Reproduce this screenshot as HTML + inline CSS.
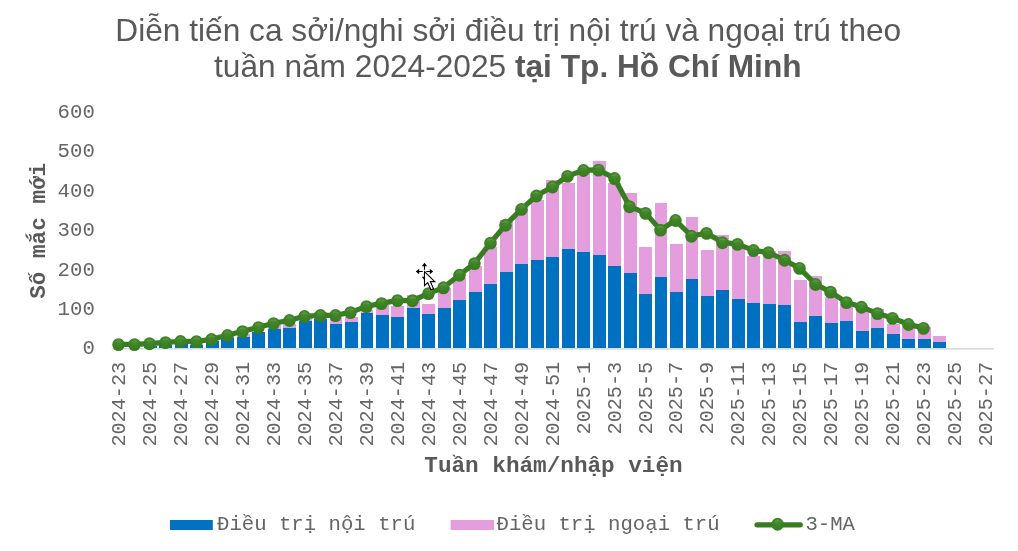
<!DOCTYPE html>
<html lang="vi"><head><meta charset="utf-8"><title>Diễn tiến ca sởi</title>
<style>html,body{margin:0;padding:0;background:#fff;overflow:hidden}svg{display:block}</style></head>
<body>
<svg width="1018" height="551" viewBox="0 0 1018 551">
<defs><radialGradient id="mk" cx="0.5" cy="0.3" r="0.6"><stop offset="0" stop-color="#4a8d32"/><stop offset="0.6" stop-color="#3d8125"/><stop offset="1" stop-color="#397D21"/></radialGradient></defs>
<rect width="1018" height="551" fill="#fff"/>
<text x="508.3" y="41.1" text-anchor="middle" font-family='"Liberation Sans", sans-serif' font-size="31.66" fill="#595959">Diễn tiến ca sởi/nghi sởi điều trị nội trú và ngoại trú theo</text>
<text x="507.8" y="76.9" text-anchor="middle" font-family='"Liberation Sans", sans-serif' font-size="31.66" fill="#595959">tuần năm 2024-2025 <tspan font-weight="bold">tại Tp. Hồ Chí Minh</tspan></text>
<text x="94.8" y="354.2" text-anchor="end" font-family='"Liberation Mono", monospace' font-size="20.67" fill="#656565">0</text>
<text x="94.8" y="314.8" text-anchor="end" font-family='"Liberation Mono", monospace' font-size="20.67" fill="#656565">100</text>
<text x="94.8" y="275.5" text-anchor="end" font-family='"Liberation Mono", monospace' font-size="20.67" fill="#656565">200</text>
<text x="94.8" y="236.1" text-anchor="end" font-family='"Liberation Mono", monospace' font-size="20.67" fill="#656565">300</text>
<text x="94.8" y="196.7" text-anchor="end" font-family='"Liberation Mono", monospace' font-size="20.67" fill="#656565">400</text>
<text x="94.8" y="157.3" text-anchor="end" font-family='"Liberation Mono", monospace' font-size="20.67" fill="#656565">500</text>
<text x="94.8" y="118.0" text-anchor="end" font-family='"Liberation Mono", monospace' font-size="20.67" fill="#656565">600</text>
<text transform="translate(45.3,230.8) rotate(-90)" text-anchor="middle" font-family='"Liberation Mono", monospace' font-weight="bold" font-size="22.67" fill="#595959">Số mắc mới</text>
<rect x="113" y="348" width="13" height="0" fill="#0070C0"/>
<rect x="128" y="348" width="13" height="0" fill="#0070C0"/>
<rect x="144" y="346" width="13" height="2" fill="#0070C0"/>
<rect x="159" y="344" width="13" height="1" fill="#E59EDD"/>
<rect x="159" y="345" width="13" height="3" fill="#0070C0"/>
<rect x="175" y="344" width="13" height="4" fill="#0070C0"/>
<rect x="190" y="344" width="13" height="1" fill="#E59EDD"/>
<rect x="190" y="345" width="13" height="3" fill="#0070C0"/>
<rect x="206" y="340" width="13" height="1" fill="#E59EDD"/>
<rect x="206" y="341" width="13" height="7" fill="#0070C0"/>
<rect x="221" y="335" width="13" height="3" fill="#E59EDD"/>
<rect x="221" y="338" width="13" height="10" fill="#0070C0"/>
<rect x="237" y="334" width="13" height="3" fill="#E59EDD"/>
<rect x="237" y="337" width="13" height="11" fill="#0070C0"/>
<rect x="252" y="332" width="13" height="16" fill="#0070C0"/>
<rect x="268" y="325" width="13" height="4" fill="#E59EDD"/>
<rect x="268" y="329" width="13" height="19" fill="#0070C0"/>
<rect x="283" y="324" width="13" height="4" fill="#E59EDD"/>
<rect x="283" y="328" width="13" height="20" fill="#0070C0"/>
<rect x="299" y="317" width="13" height="4" fill="#E59EDD"/>
<rect x="299" y="321" width="13" height="27" fill="#0070C0"/>
<rect x="314" y="312" width="13" height="7" fill="#E59EDD"/>
<rect x="314" y="319" width="13" height="29" fill="#0070C0"/>
<rect x="330" y="318" width="12" height="6" fill="#E59EDD"/>
<rect x="330" y="324" width="12" height="24" fill="#0070C0"/>
<rect x="345" y="317" width="13" height="5" fill="#E59EDD"/>
<rect x="345" y="322" width="13" height="26" fill="#0070C0"/>
<rect x="361" y="310" width="12" height="3" fill="#E59EDD"/>
<rect x="361" y="313" width="12" height="35" fill="#0070C0"/>
<rect x="376" y="305" width="13" height="10" fill="#E59EDD"/>
<rect x="376" y="315" width="13" height="33" fill="#0070C0"/>
<rect x="391" y="306" width="13" height="11" fill="#E59EDD"/>
<rect x="391" y="317" width="13" height="31" fill="#0070C0"/>
<rect x="407" y="295" width="13" height="13" fill="#E59EDD"/>
<rect x="407" y="308" width="13" height="40" fill="#0070C0"/>
<rect x="422" y="304" width="13" height="10" fill="#E59EDD"/>
<rect x="422" y="314" width="13" height="34" fill="#0070C0"/>
<rect x="438" y="288" width="13" height="20" fill="#E59EDD"/>
<rect x="438" y="308" width="13" height="40" fill="#0070C0"/>
<rect x="453" y="278" width="13" height="22" fill="#E59EDD"/>
<rect x="453" y="300" width="13" height="48" fill="#0070C0"/>
<rect x="469" y="266" width="13" height="26" fill="#E59EDD"/>
<rect x="469" y="292" width="13" height="56" fill="#0070C0"/>
<rect x="484" y="247" width="13" height="37" fill="#E59EDD"/>
<rect x="484" y="284" width="13" height="64" fill="#0070C0"/>
<rect x="500" y="220" width="13" height="52" fill="#E59EDD"/>
<rect x="500" y="272" width="13" height="76" fill="#0070C0"/>
<rect x="515" y="209" width="13" height="55" fill="#E59EDD"/>
<rect x="515" y="264" width="13" height="84" fill="#0070C0"/>
<rect x="531" y="200" width="13" height="60" fill="#E59EDD"/>
<rect x="531" y="260" width="13" height="88" fill="#0070C0"/>
<rect x="546" y="180" width="13" height="77" fill="#E59EDD"/>
<rect x="546" y="257" width="13" height="91" fill="#0070C0"/>
<rect x="562" y="183" width="13" height="66" fill="#E59EDD"/>
<rect x="562" y="249" width="13" height="99" fill="#0070C0"/>
<rect x="577" y="171" width="13" height="81" fill="#E59EDD"/>
<rect x="577" y="252" width="13" height="96" fill="#0070C0"/>
<rect x="593" y="161" width="13" height="94" fill="#E59EDD"/>
<rect x="593" y="255" width="13" height="93" fill="#0070C0"/>
<rect x="608" y="183" width="13" height="83" fill="#E59EDD"/>
<rect x="608" y="266" width="13" height="82" fill="#0070C0"/>
<rect x="624" y="193" width="13" height="80" fill="#E59EDD"/>
<rect x="624" y="273" width="13" height="75" fill="#0070C0"/>
<rect x="639" y="247" width="13" height="47" fill="#E59EDD"/>
<rect x="639" y="294" width="13" height="54" fill="#0070C0"/>
<rect x="655" y="203" width="12" height="74" fill="#E59EDD"/>
<rect x="655" y="277" width="12" height="71" fill="#0070C0"/>
<rect x="670" y="244" width="13" height="48" fill="#E59EDD"/>
<rect x="670" y="292" width="13" height="56" fill="#0070C0"/>
<rect x="686" y="217" width="12" height="62" fill="#E59EDD"/>
<rect x="686" y="279" width="12" height="69" fill="#0070C0"/>
<rect x="701" y="250" width="13" height="46" fill="#E59EDD"/>
<rect x="701" y="296" width="13" height="52" fill="#0070C0"/>
<rect x="716" y="235" width="13" height="55" fill="#E59EDD"/>
<rect x="716" y="290" width="13" height="58" fill="#0070C0"/>
<rect x="732" y="245" width="13" height="54" fill="#E59EDD"/>
<rect x="732" y="299" width="13" height="49" fill="#0070C0"/>
<rect x="747" y="256" width="13" height="47" fill="#E59EDD"/>
<rect x="747" y="303" width="13" height="45" fill="#0070C0"/>
<rect x="763" y="251" width="13" height="53" fill="#E59EDD"/>
<rect x="763" y="304" width="13" height="44" fill="#0070C0"/>
<rect x="778" y="251" width="13" height="54" fill="#E59EDD"/>
<rect x="778" y="305" width="13" height="43" fill="#0070C0"/>
<rect x="794" y="280" width="13" height="42" fill="#E59EDD"/>
<rect x="794" y="322" width="13" height="26" fill="#0070C0"/>
<rect x="809" y="276" width="13" height="40" fill="#E59EDD"/>
<rect x="809" y="316" width="13" height="32" fill="#0070C0"/>
<rect x="825" y="297" width="13" height="26" fill="#E59EDD"/>
<rect x="825" y="323" width="13" height="25" fill="#0070C0"/>
<rect x="840" y="304" width="13" height="17" fill="#E59EDD"/>
<rect x="840" y="321" width="13" height="27" fill="#0070C0"/>
<rect x="856" y="307" width="13" height="24" fill="#E59EDD"/>
<rect x="856" y="331" width="13" height="17" fill="#0070C0"/>
<rect x="871" y="309" width="13" height="19" fill="#E59EDD"/>
<rect x="871" y="328" width="13" height="20" fill="#0070C0"/>
<rect x="887" y="324" width="13" height="10" fill="#E59EDD"/>
<rect x="887" y="334" width="13" height="14" fill="#0070C0"/>
<rect x="902" y="324" width="13" height="15" fill="#E59EDD"/>
<rect x="902" y="339" width="13" height="9" fill="#0070C0"/>
<rect x="918" y="327" width="13" height="12" fill="#E59EDD"/>
<rect x="918" y="339" width="13" height="9" fill="#0070C0"/>
<rect x="933" y="336" width="13" height="6" fill="#E59EDD"/>
<rect x="933" y="342" width="13" height="6" fill="#0070C0"/>
<rect x="111.62" y="348" width="882.18" height="1.6" fill="#D9D9D9"/>
<polyline fill="none" stroke="#397D21" stroke-width="5.2" stroke-linejoin="round" stroke-linecap="round" points="118.50,344.34 134.50,344.34 149.50,343.55 165.50,342.41 180.50,341.31 196.50,341.39 211.50,339.30 227.50,335.20 242.50,331.35 258.50,327.33 273.50,323.35 289.50,320.24 304.50,316.31 320.50,315.32 335.50,315.32 350.50,312.37 366.50,306.35 381.50,303.35 397.50,300.36 412.50,300.56 428.50,293.35 443.50,287.57 459.50,275.01 474.50,263.35 490.50,242.88 505.50,224.97 521.50,209.10 536.50,195.72 552.50,186.78 567.50,176.15 583.50,170.21 598.50,169.89 614.50,178.32 629.50,206.43 645.50,213.12 660.50,229.89 675.50,220.28 691.50,235.99 706.50,233.12 722.50,242.45 737.50,244.14 753.50,250.32 768.50,252.49 784.50,260.01 799.50,268.16 815.50,284.22 830.50,291.90 846.50,302.33 861.50,307.06 877.50,313.39 892.50,318.08 908.50,324.26 923.50,328.12"/>
<ellipse cx="118.50" cy="344.59" rx="6.25" ry="6.45" fill="url(#mk)"/><path d="M115.50 342.04a4.2 4.2 0 0 1 6 0" fill="none" stroke="#7bb268" stroke-width="0.9" stroke-linecap="round" opacity="0.55"/>
<ellipse cx="134.50" cy="344.59" rx="6.25" ry="6.45" fill="url(#mk)"/><path d="M131.50 342.04a4.2 4.2 0 0 1 6 0" fill="none" stroke="#7bb268" stroke-width="0.9" stroke-linecap="round" opacity="0.55"/>
<ellipse cx="149.50" cy="343.80" rx="6.25" ry="6.45" fill="url(#mk)"/><path d="M146.50 341.25a4.2 4.2 0 0 1 6 0" fill="none" stroke="#7bb268" stroke-width="0.9" stroke-linecap="round" opacity="0.55"/>
<ellipse cx="165.50" cy="342.66" rx="6.25" ry="6.45" fill="url(#mk)"/><path d="M162.50 340.11a4.2 4.2 0 0 1 6 0" fill="none" stroke="#7bb268" stroke-width="0.9" stroke-linecap="round" opacity="0.55"/>
<ellipse cx="180.50" cy="341.56" rx="6.25" ry="6.45" fill="url(#mk)"/><path d="M177.50 339.01a4.2 4.2 0 0 1 6 0" fill="none" stroke="#7bb268" stroke-width="0.9" stroke-linecap="round" opacity="0.55"/>
<ellipse cx="196.50" cy="341.64" rx="6.25" ry="6.45" fill="url(#mk)"/><path d="M193.50 339.09a4.2 4.2 0 0 1 6 0" fill="none" stroke="#7bb268" stroke-width="0.9" stroke-linecap="round" opacity="0.55"/>
<ellipse cx="211.50" cy="339.55" rx="6.25" ry="6.45" fill="url(#mk)"/><path d="M208.50 337.00a4.2 4.2 0 0 1 6 0" fill="none" stroke="#7bb268" stroke-width="0.9" stroke-linecap="round" opacity="0.55"/>
<ellipse cx="227.50" cy="335.45" rx="6.25" ry="6.45" fill="url(#mk)"/><path d="M224.50 332.90a4.2 4.2 0 0 1 6 0" fill="none" stroke="#7bb268" stroke-width="0.9" stroke-linecap="round" opacity="0.55"/>
<ellipse cx="242.50" cy="331.60" rx="6.25" ry="6.45" fill="url(#mk)"/><path d="M239.50 329.05a4.2 4.2 0 0 1 6 0" fill="none" stroke="#7bb268" stroke-width="0.9" stroke-linecap="round" opacity="0.55"/>
<ellipse cx="258.50" cy="327.58" rx="6.25" ry="6.45" fill="url(#mk)"/><path d="M255.50 325.03a4.2 4.2 0 0 1 6 0" fill="none" stroke="#7bb268" stroke-width="0.9" stroke-linecap="round" opacity="0.55"/>
<ellipse cx="273.50" cy="323.60" rx="6.25" ry="6.45" fill="url(#mk)"/><path d="M270.50 321.05a4.2 4.2 0 0 1 6 0" fill="none" stroke="#7bb268" stroke-width="0.9" stroke-linecap="round" opacity="0.55"/>
<ellipse cx="289.50" cy="320.49" rx="6.25" ry="6.45" fill="url(#mk)"/><path d="M286.50 317.94a4.2 4.2 0 0 1 6 0" fill="none" stroke="#7bb268" stroke-width="0.9" stroke-linecap="round" opacity="0.55"/>
<ellipse cx="304.50" cy="316.56" rx="6.25" ry="6.45" fill="url(#mk)"/><path d="M301.50 314.01a4.2 4.2 0 0 1 6 0" fill="none" stroke="#7bb268" stroke-width="0.9" stroke-linecap="round" opacity="0.55"/>
<ellipse cx="320.50" cy="315.57" rx="6.25" ry="6.45" fill="url(#mk)"/><path d="M317.50 313.02a4.2 4.2 0 0 1 6 0" fill="none" stroke="#7bb268" stroke-width="0.9" stroke-linecap="round" opacity="0.55"/>
<ellipse cx="335.50" cy="315.57" rx="6.25" ry="6.45" fill="url(#mk)"/><path d="M332.50 313.02a4.2 4.2 0 0 1 6 0" fill="none" stroke="#7bb268" stroke-width="0.9" stroke-linecap="round" opacity="0.55"/>
<ellipse cx="350.50" cy="312.62" rx="6.25" ry="6.45" fill="url(#mk)"/><path d="M347.50 310.07a4.2 4.2 0 0 1 6 0" fill="none" stroke="#7bb268" stroke-width="0.9" stroke-linecap="round" opacity="0.55"/>
<ellipse cx="366.50" cy="306.60" rx="6.25" ry="6.45" fill="url(#mk)"/><path d="M363.50 304.05a4.2 4.2 0 0 1 6 0" fill="none" stroke="#7bb268" stroke-width="0.9" stroke-linecap="round" opacity="0.55"/>
<ellipse cx="381.50" cy="303.60" rx="6.25" ry="6.45" fill="url(#mk)"/><path d="M378.50 301.05a4.2 4.2 0 0 1 6 0" fill="none" stroke="#7bb268" stroke-width="0.9" stroke-linecap="round" opacity="0.55"/>
<ellipse cx="397.50" cy="300.61" rx="6.25" ry="6.45" fill="url(#mk)"/><path d="M394.50 298.06a4.2 4.2 0 0 1 6 0" fill="none" stroke="#7bb268" stroke-width="0.9" stroke-linecap="round" opacity="0.55"/>
<ellipse cx="412.50" cy="300.81" rx="6.25" ry="6.45" fill="url(#mk)"/><path d="M409.50 298.26a4.2 4.2 0 0 1 6 0" fill="none" stroke="#7bb268" stroke-width="0.9" stroke-linecap="round" opacity="0.55"/>
<ellipse cx="428.50" cy="293.60" rx="6.25" ry="6.45" fill="url(#mk)"/><path d="M425.50 291.05a4.2 4.2 0 0 1 6 0" fill="none" stroke="#7bb268" stroke-width="0.9" stroke-linecap="round" opacity="0.55"/>
<ellipse cx="443.50" cy="287.82" rx="6.25" ry="6.45" fill="url(#mk)"/><path d="M440.50 285.27a4.2 4.2 0 0 1 6 0" fill="none" stroke="#7bb268" stroke-width="0.9" stroke-linecap="round" opacity="0.55"/>
<ellipse cx="459.50" cy="275.26" rx="6.25" ry="6.45" fill="url(#mk)"/><path d="M456.50 272.71a4.2 4.2 0 0 1 6 0" fill="none" stroke="#7bb268" stroke-width="0.9" stroke-linecap="round" opacity="0.55"/>
<ellipse cx="474.50" cy="263.60" rx="6.25" ry="6.45" fill="url(#mk)"/><path d="M471.50 261.05a4.2 4.2 0 0 1 6 0" fill="none" stroke="#7bb268" stroke-width="0.9" stroke-linecap="round" opacity="0.55"/>
<ellipse cx="490.50" cy="243.13" rx="6.25" ry="6.45" fill="url(#mk)"/><path d="M487.50 240.58a4.2 4.2 0 0 1 6 0" fill="none" stroke="#7bb268" stroke-width="0.9" stroke-linecap="round" opacity="0.55"/>
<ellipse cx="505.50" cy="225.22" rx="6.25" ry="6.45" fill="url(#mk)"/><path d="M502.50 222.67a4.2 4.2 0 0 1 6 0" fill="none" stroke="#7bb268" stroke-width="0.9" stroke-linecap="round" opacity="0.55"/>
<ellipse cx="521.50" cy="209.35" rx="6.25" ry="6.45" fill="url(#mk)"/><path d="M518.50 206.80a4.2 4.2 0 0 1 6 0" fill="none" stroke="#7bb268" stroke-width="0.9" stroke-linecap="round" opacity="0.55"/>
<ellipse cx="536.50" cy="195.97" rx="6.25" ry="6.45" fill="url(#mk)"/><path d="M533.50 193.42a4.2 4.2 0 0 1 6 0" fill="none" stroke="#7bb268" stroke-width="0.9" stroke-linecap="round" opacity="0.55"/>
<ellipse cx="552.50" cy="187.03" rx="6.25" ry="6.45" fill="url(#mk)"/><path d="M549.50 184.48a4.2 4.2 0 0 1 6 0" fill="none" stroke="#7bb268" stroke-width="0.9" stroke-linecap="round" opacity="0.55"/>
<ellipse cx="567.50" cy="176.40" rx="6.25" ry="6.45" fill="url(#mk)"/><path d="M564.50 173.85a4.2 4.2 0 0 1 6 0" fill="none" stroke="#7bb268" stroke-width="0.9" stroke-linecap="round" opacity="0.55"/>
<ellipse cx="583.50" cy="170.46" rx="6.25" ry="6.45" fill="url(#mk)"/><path d="M580.50 167.91a4.2 4.2 0 0 1 6 0" fill="none" stroke="#7bb268" stroke-width="0.9" stroke-linecap="round" opacity="0.55"/>
<ellipse cx="598.50" cy="170.14" rx="6.25" ry="6.45" fill="url(#mk)"/><path d="M595.50 167.59a4.2 4.2 0 0 1 6 0" fill="none" stroke="#7bb268" stroke-width="0.9" stroke-linecap="round" opacity="0.55"/>
<ellipse cx="614.50" cy="178.57" rx="6.25" ry="6.45" fill="url(#mk)"/><path d="M611.50 176.02a4.2 4.2 0 0 1 6 0" fill="none" stroke="#7bb268" stroke-width="0.9" stroke-linecap="round" opacity="0.55"/>
<ellipse cx="629.50" cy="206.68" rx="6.25" ry="6.45" fill="url(#mk)"/><path d="M626.50 204.13a4.2 4.2 0 0 1 6 0" fill="none" stroke="#7bb268" stroke-width="0.9" stroke-linecap="round" opacity="0.55"/>
<ellipse cx="645.50" cy="213.37" rx="6.25" ry="6.45" fill="url(#mk)"/><path d="M642.50 210.82a4.2 4.2 0 0 1 6 0" fill="none" stroke="#7bb268" stroke-width="0.9" stroke-linecap="round" opacity="0.55"/>
<ellipse cx="660.50" cy="230.14" rx="6.25" ry="6.45" fill="url(#mk)"/><path d="M657.50 227.59a4.2 4.2 0 0 1 6 0" fill="none" stroke="#7bb268" stroke-width="0.9" stroke-linecap="round" opacity="0.55"/>
<ellipse cx="675.50" cy="220.53" rx="6.25" ry="6.45" fill="url(#mk)"/><path d="M672.50 217.98a4.2 4.2 0 0 1 6 0" fill="none" stroke="#7bb268" stroke-width="0.9" stroke-linecap="round" opacity="0.55"/>
<ellipse cx="691.50" cy="236.24" rx="6.25" ry="6.45" fill="url(#mk)"/><path d="M688.50 233.69a4.2 4.2 0 0 1 6 0" fill="none" stroke="#7bb268" stroke-width="0.9" stroke-linecap="round" opacity="0.55"/>
<ellipse cx="706.50" cy="233.37" rx="6.25" ry="6.45" fill="url(#mk)"/><path d="M703.50 230.82a4.2 4.2 0 0 1 6 0" fill="none" stroke="#7bb268" stroke-width="0.9" stroke-linecap="round" opacity="0.55"/>
<ellipse cx="722.50" cy="242.70" rx="6.25" ry="6.45" fill="url(#mk)"/><path d="M719.50 240.15a4.2 4.2 0 0 1 6 0" fill="none" stroke="#7bb268" stroke-width="0.9" stroke-linecap="round" opacity="0.55"/>
<ellipse cx="737.50" cy="244.39" rx="6.25" ry="6.45" fill="url(#mk)"/><path d="M734.50 241.84a4.2 4.2 0 0 1 6 0" fill="none" stroke="#7bb268" stroke-width="0.9" stroke-linecap="round" opacity="0.55"/>
<ellipse cx="753.50" cy="250.57" rx="6.25" ry="6.45" fill="url(#mk)"/><path d="M750.50 248.02a4.2 4.2 0 0 1 6 0" fill="none" stroke="#7bb268" stroke-width="0.9" stroke-linecap="round" opacity="0.55"/>
<ellipse cx="768.50" cy="252.74" rx="6.25" ry="6.45" fill="url(#mk)"/><path d="M765.50 250.19a4.2 4.2 0 0 1 6 0" fill="none" stroke="#7bb268" stroke-width="0.9" stroke-linecap="round" opacity="0.55"/>
<ellipse cx="784.50" cy="260.26" rx="6.25" ry="6.45" fill="url(#mk)"/><path d="M781.50 257.71a4.2 4.2 0 0 1 6 0" fill="none" stroke="#7bb268" stroke-width="0.9" stroke-linecap="round" opacity="0.55"/>
<ellipse cx="799.50" cy="268.41" rx="6.25" ry="6.45" fill="url(#mk)"/><path d="M796.50 265.86a4.2 4.2 0 0 1 6 0" fill="none" stroke="#7bb268" stroke-width="0.9" stroke-linecap="round" opacity="0.55"/>
<ellipse cx="815.50" cy="284.47" rx="6.25" ry="6.45" fill="url(#mk)"/><path d="M812.50 281.92a4.2 4.2 0 0 1 6 0" fill="none" stroke="#7bb268" stroke-width="0.9" stroke-linecap="round" opacity="0.55"/>
<ellipse cx="830.50" cy="292.15" rx="6.25" ry="6.45" fill="url(#mk)"/><path d="M827.50 289.60a4.2 4.2 0 0 1 6 0" fill="none" stroke="#7bb268" stroke-width="0.9" stroke-linecap="round" opacity="0.55"/>
<ellipse cx="846.50" cy="302.58" rx="6.25" ry="6.45" fill="url(#mk)"/><path d="M843.50 300.03a4.2 4.2 0 0 1 6 0" fill="none" stroke="#7bb268" stroke-width="0.9" stroke-linecap="round" opacity="0.55"/>
<ellipse cx="861.50" cy="307.31" rx="6.25" ry="6.45" fill="url(#mk)"/><path d="M858.50 304.76a4.2 4.2 0 0 1 6 0" fill="none" stroke="#7bb268" stroke-width="0.9" stroke-linecap="round" opacity="0.55"/>
<ellipse cx="877.50" cy="313.64" rx="6.25" ry="6.45" fill="url(#mk)"/><path d="M874.50 311.09a4.2 4.2 0 0 1 6 0" fill="none" stroke="#7bb268" stroke-width="0.9" stroke-linecap="round" opacity="0.55"/>
<ellipse cx="892.50" cy="318.33" rx="6.25" ry="6.45" fill="url(#mk)"/><path d="M889.50 315.78a4.2 4.2 0 0 1 6 0" fill="none" stroke="#7bb268" stroke-width="0.9" stroke-linecap="round" opacity="0.55"/>
<ellipse cx="908.50" cy="324.51" rx="6.25" ry="6.45" fill="url(#mk)"/><path d="M905.50 321.96a4.2 4.2 0 0 1 6 0" fill="none" stroke="#7bb268" stroke-width="0.9" stroke-linecap="round" opacity="0.55"/>
<ellipse cx="923.50" cy="328.37" rx="6.25" ry="6.45" fill="url(#mk)"/><path d="M920.50 325.82a4.2 4.2 0 0 1 6 0" fill="none" stroke="#7bb268" stroke-width="0.9" stroke-linecap="round" opacity="0.55"/>
<g id="cursor"><path d="M418.5 271.5H422.7M426.3 271.5H430.5M424.5 265.5V269.7M424.5 273.3V277.5" stroke="#000" stroke-width="1.1" fill="none"/><path d="M424.5 262.8l2.7 3.4h-5.4zM424.5 280.2l2.7-3.4h-5.4zM415.8 271.5l3.4-2.7v5.4zM433.2 271.5l-3.4-2.7v5.4z" fill="#000"/><path d="M424.5 271.5V285.7L427.7 282.7L431 289.8L433.5 288.7L430.3 281.6H434.8Z" fill="#fff" stroke="#000" stroke-width="1.1" stroke-linejoin="miter"/></g>
<text transform="translate(125.36,361.8) rotate(-90)" text-anchor="end" font-family='"Liberation Mono", monospace' font-size="20.2" fill="#656565">2024-23</text>
<text transform="translate(156.31,361.8) rotate(-90)" text-anchor="end" font-family='"Liberation Mono", monospace' font-size="20.2" fill="#656565">2024-25</text>
<text transform="translate(187.26,361.8) rotate(-90)" text-anchor="end" font-family='"Liberation Mono", monospace' font-size="20.2" fill="#656565">2024-27</text>
<text transform="translate(218.21,361.8) rotate(-90)" text-anchor="end" font-family='"Liberation Mono", monospace' font-size="20.2" fill="#656565">2024-29</text>
<text transform="translate(249.17,361.8) rotate(-90)" text-anchor="end" font-family='"Liberation Mono", monospace' font-size="20.2" fill="#656565">2024-31</text>
<text transform="translate(280.12,361.8) rotate(-90)" text-anchor="end" font-family='"Liberation Mono", monospace' font-size="20.2" fill="#656565">2024-33</text>
<text transform="translate(311.07,361.8) rotate(-90)" text-anchor="end" font-family='"Liberation Mono", monospace' font-size="20.2" fill="#656565">2024-35</text>
<text transform="translate(342.02,361.8) rotate(-90)" text-anchor="end" font-family='"Liberation Mono", monospace' font-size="20.2" fill="#656565">2024-37</text>
<text transform="translate(372.97,361.8) rotate(-90)" text-anchor="end" font-family='"Liberation Mono", monospace' font-size="20.2" fill="#656565">2024-39</text>
<text transform="translate(403.93,361.8) rotate(-90)" text-anchor="end" font-family='"Liberation Mono", monospace' font-size="20.2" fill="#656565">2024-41</text>
<text transform="translate(434.88,361.8) rotate(-90)" text-anchor="end" font-family='"Liberation Mono", monospace' font-size="20.2" fill="#656565">2024-43</text>
<text transform="translate(465.83,361.8) rotate(-90)" text-anchor="end" font-family='"Liberation Mono", monospace' font-size="20.2" fill="#656565">2024-45</text>
<text transform="translate(496.78,361.8) rotate(-90)" text-anchor="end" font-family='"Liberation Mono", monospace' font-size="20.2" fill="#656565">2024-47</text>
<text transform="translate(527.73,361.8) rotate(-90)" text-anchor="end" font-family='"Liberation Mono", monospace' font-size="20.2" fill="#656565">2024-49</text>
<text transform="translate(558.69,361.8) rotate(-90)" text-anchor="end" font-family='"Liberation Mono", monospace' font-size="20.2" fill="#656565">2024-51</text>
<text transform="translate(589.64,361.8) rotate(-90)" text-anchor="end" font-family='"Liberation Mono", monospace' font-size="20.2" fill="#656565">2025-1</text>
<text transform="translate(620.59,361.8) rotate(-90)" text-anchor="end" font-family='"Liberation Mono", monospace' font-size="20.2" fill="#656565">2025-3</text>
<text transform="translate(651.54,361.8) rotate(-90)" text-anchor="end" font-family='"Liberation Mono", monospace' font-size="20.2" fill="#656565">2025-5</text>
<text transform="translate(682.49,361.8) rotate(-90)" text-anchor="end" font-family='"Liberation Mono", monospace' font-size="20.2" fill="#656565">2025-7</text>
<text transform="translate(713.45,361.8) rotate(-90)" text-anchor="end" font-family='"Liberation Mono", monospace' font-size="20.2" fill="#656565">2025-9</text>
<text transform="translate(744.40,361.8) rotate(-90)" text-anchor="end" font-family='"Liberation Mono", monospace' font-size="20.2" fill="#656565">2025-11</text>
<text transform="translate(775.35,361.8) rotate(-90)" text-anchor="end" font-family='"Liberation Mono", monospace' font-size="20.2" fill="#656565">2025-13</text>
<text transform="translate(806.30,361.8) rotate(-90)" text-anchor="end" font-family='"Liberation Mono", monospace' font-size="20.2" fill="#656565">2025-15</text>
<text transform="translate(837.25,361.8) rotate(-90)" text-anchor="end" font-family='"Liberation Mono", monospace' font-size="20.2" fill="#656565">2025-17</text>
<text transform="translate(868.21,361.8) rotate(-90)" text-anchor="end" font-family='"Liberation Mono", monospace' font-size="20.2" fill="#656565">2025-19</text>
<text transform="translate(899.16,361.8) rotate(-90)" text-anchor="end" font-family='"Liberation Mono", monospace' font-size="20.2" fill="#656565">2025-21</text>
<text transform="translate(930.11,361.8) rotate(-90)" text-anchor="end" font-family='"Liberation Mono", monospace' font-size="20.2" fill="#656565">2025-23</text>
<text transform="translate(961.06,361.8) rotate(-90)" text-anchor="end" font-family='"Liberation Mono", monospace' font-size="20.2" fill="#656565">2025-25</text>
<text transform="translate(992.01,361.8) rotate(-90)" text-anchor="end" font-family='"Liberation Mono", monospace' font-size="20.2" fill="#656565">2025-27</text>
<text x="553.5" y="472" text-anchor="middle" font-family='"Liberation Mono", monospace' font-weight="bold" font-size="22.67" fill="#595959">Tuần khám/nhập viện</text>
<rect x="170" y="520" width="42.8" height="10" fill="#0070C0"/>
<text x="217" y="530.1" font-family='"Liberation Mono", monospace' font-size="20.67" fill="#656565">Điều trị nội trú</text>
<rect x="450.6" y="520" width="43.4" height="10" fill="#E59EDD"/>
<text x="496.5" y="530.1" font-family='"Liberation Mono", monospace' font-size="20.67" fill="#656565">Điều trị ngoại trú</text>
<line x1="757" y1="524.8" x2="800.3" y2="524.8" stroke="#397D21" stroke-width="5.2" stroke-linecap="round"/>
<ellipse cx="777.6" cy="524.2" rx="6.25" ry="6.45" fill="url(#mk)"/><path d="M774.6 521.7a4.2 4.2 0 0 1 6 0" fill="none" stroke="#7bb268" stroke-width="0.9" stroke-linecap="round" opacity="0.55"/>
<text x="805.4" y="530.1" font-family='"Liberation Mono", monospace' font-size="20.67" fill="#656565">3-MA</text>
</svg>
</body></html>
